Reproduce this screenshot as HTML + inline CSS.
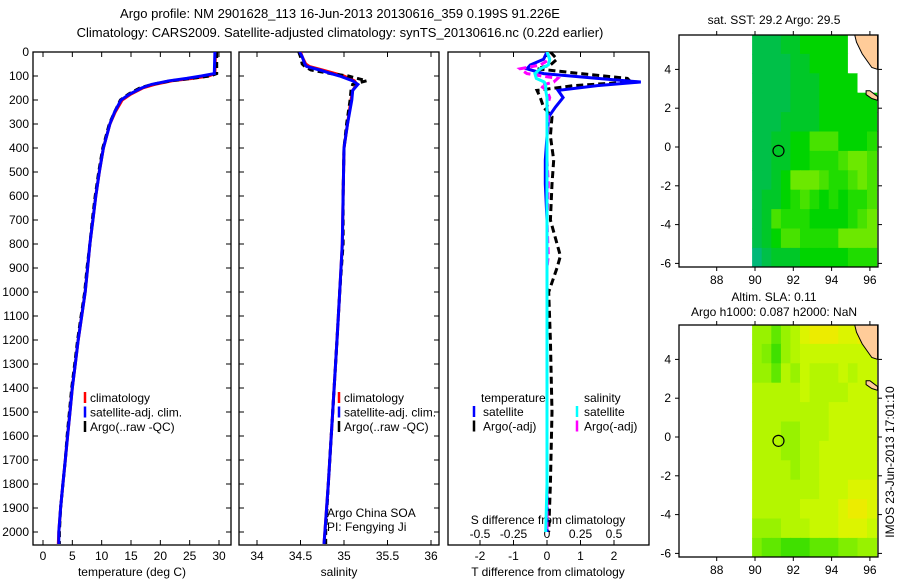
<!DOCTYPE html>
<html><head><meta charset="utf-8"><style>
body{margin:0;background:#fff;}
svg{display:block;font-family:"Liberation Sans",sans-serif;}
text{font-size:12px;fill:#000;}
</style></head><body>
<svg id="fig" width="900" height="580" viewBox="0 0 900 580">
<text x="340" y="18" text-anchor="middle" style="font-size:13px">Argo profile: NM 2901628_113 16-Jun-2013 20130616_359 0.199S 91.226E</text>
<text x="340" y="37" text-anchor="middle" style="font-size:13px">Climatology: CARS2009. Satellite-adjusted climatology: synTS_20130616.nc (0.22d earlier)</text>
<g id="g"></g>
</svg>
<script>
// ---- data ----
const depthT = [0,90,100,110,120,135,150,175,200,250,300,400,500,600,700,800,900,1000,1100,1200,1300,1400,1500,1600,1700,1800,1900,2000,2050];
const tempClim = [29.4,29.3,28.2,25.5,22,19,17,15,13.5,12.3,11.4,10.3,9.6,9.0,8.5,8.0,7.6,7.2,6.6,6.0,5.5,5.0,4.6,4.2,3.8,3.4,3.0,2.7,2.6];
const tempSat  = [29.3,29.2,27.0,24.5,21.5,18.5,16.8,14.8,13.3,12.2,11.4,10.3,9.6,9.0,8.5,8.0,7.6,7.2,6.6,6.0,5.5,5.0,4.6,4.2,3.8,3.4,3.0,2.7,2.7];
const tempArgo = [29.6,29.6,28.5,25.2,21.8,18.6,16.5,14.6,13.2,12.2,11.3,10.2,9.5,8.9,8.4,8.0,7.5,7.1,6.5,5.9,5.4,4.9,4.5,4.1,3.8,3.4,3.0,2.8,2.8];
const depthS = [0,20,50,60,75,90,100,120,135,160,200,300,400,600,800,1000,1200,1500,1800,2000,2050];
const salClim = [34.5,34.52,34.56,34.6,34.75,34.9,35.0,35.12,35.15,35.1,35.08,35.04,35.0,34.99,34.98,34.95,34.92,34.87,34.82,34.78,34.77];
const salSat  = [34.49,34.52,34.55,34.57,34.72,34.85,34.95,35.1,35.16,35.1,35.09,35.04,35.0,34.99,34.98,34.95,34.92,34.87,34.82,34.78,34.77];
const salArgo = [34.48,34.5,34.52,34.55,34.62,34.85,35.05,35.26,35.1,35.08,35.07,35.03,35.0,34.99,34.99,34.95,34.92,34.87,34.82,34.79,34.79];
const depthD = [0,30,54,70,90,110,125,140,160,190,230,270,350,450,550,700,850,900,1000,1200,1500,1800,2000];
const tDiffSat  = [0,-0.1,-0.5,-0.6,-0.1,1.5,2.8,1.5,0.33,0.48,0.25,0.05,0,-0.05,-0.05,0,0,0,0,0,0,0,0];
const tDiffArgo = [0.1,0.3,0.1,-0.3,1.0,2.4,2.5,0.8,-0.3,-0.2,-0.1,0.15,0.1,0.2,0.15,0.1,0.4,0.3,0.05,0.1,0.15,0.1,0.05];
const sDiffSat  = [0,0.02,0.01,-0.05,-0.09,-0.08,-0.02,-0.01,-0.01,0,0,0,0,0,0,0,0,0,0,0,0,0,-0.01];
const sDiffArgo = [0,0.02,-0.05,-0.2,-0.15,0.08,0.05,-0.05,0,0.02,0,0.01,0,0,0.01,0,0.01,0,0,0,0,0,0];
const depthTicks = [0,100,200,300,400,500,600,700,800,900,1000,1100,1200,1300,1400,1500,1600,1700,1800,1900,2000];
const tempTicks = [0,5,10,15,20,25,30];
const salTicks = [34,34.5,35,35.5,36];
const tdTicks = [-2,-1,0,1,2];
const sdTicks = [-0.5,-0.25,0,0.25,0.5];
const lonTicks = [88,90,92,94,96];
const latTicks = [4,2,0,-2,-4,-6];
const sstGrid = ["1112233333www","1111223333www","11112223333ww","1111222333333","1112222333333","1122335553334","1122334445665","1123666544565","1223454343445","1254443333456","1235544446666","0122233333444"];
const slaGrid = ["4424578887788","4314566666666","4425465556566","5555565555666","5555555566666","5554455566666","5554455666666","5555455666666","5555555666777","5555566667887","4445556667776","3221112223344"];
const argoLon = 91.226, argoLat = -0.199;

// ---- helpers ----
const NS="http://www.w3.org/2000/svg";
const G=document.getElementById('g');
function mk(tag,attrs,parent){const e=document.createElementNS(NS,tag);for(const k in attrs)e.setAttribute(k,attrs[k]);(parent||G).appendChild(e);return e;}
const yD=d=>52+d*0.24;
const xT=t=>43+t*5.867;
const xS=s=>257+(s-34)*87;
const xTd=v=>547+v*33.5;
const xSd=v=>547+v*134;

function frame(x0,x1,name){
  const r=mk('rect',{x:x0,y:52,width:x1-x0,height:493,fill:'none',stroke:'#000','stroke-width':1.3});
  
  
}
function line(xs,ys,color,name,dash,clip){
  let d='';xs.forEach((x,i)=>{d+=(i?'L':'M')+x.toFixed(1)+' '+ys[i].toFixed(1);});
  const p=mk('path',{d:d,fill:'none',stroke:color,'stroke-width':3,'stroke-dasharray':dash||'none','clip-path':clip});
  
  
}
function txt(x,y,s,name,anchor,size){
  const t=mk('text',{x:x,y:y,'text-anchor':anchor||'start'});
  if(size)t.style.fontSize=size+'px';
  t.textContent=s;
  
  
  return t;
}
const defs=mk('defs',{});
[[33,231,'c1'],[239,439,'c2'],[448,649,'c3']].forEach(([a,b,id])=>{const c=mk('clipPath',{id:id},defs);mk('rect',{x:a,y:52,width:b-a,height:493},c);});
[[35,'m1'],[325,'m2']].forEach(([t,id])=>{const c=mk('clipPath',{id:id},defs);mk('rect',{x:679,y:t,width:199,height:232},c);});

// ---- panel 1 ----
frame(33,231,'temperature-panel');
depthTicks.forEach(d=>{
  mk('line',{x1:33,x2:38,y1:yD(d),y2:yD(d),stroke:'#000'});
  mk('line',{x1:226,x2:231,y1:yD(d),y2:yD(d),stroke:'#000'});
  mk('line',{x1:239,x2:244,y1:yD(d),y2:yD(d),stroke:'#000'});
  mk('line',{x1:434,x2:439,y1:yD(d),y2:yD(d),stroke:'#000'});
  txt(29,yD(d)+4,String(d),'depth-tick-label','end');
});
tempTicks.forEach(t=>{
  mk('line',{x1:xT(t),x2:xT(t),y1:52,y2:57,stroke:'#000'});
  mk('line',{x1:xT(t),x2:xT(t),y1:540,y2:545,stroke:'#000'});
  txt(xT(t),560,String(t),'temperature-tick-label','middle');
});
txt(132,576,'temperature (deg C)','x-axis-title-temperature','middle');
line(tempClim.map(xT),depthT.map(yD),'#f00','temp-climatology-line',null,'url(#c1)');
line(tempArgo.map(xT),depthT.map(yD),'#000','temp-argo-line','6 4','url(#c1)');
line(tempSat.map(xT),depthT.map(yD),'#00f','temp-satellite-line',null,'url(#c1)');
[['climatology','#f00'],['satellite-adj. clim.','#00f'],['Argo(..raw -QC)','#000']].forEach(([s,c],i)=>{
  mk('line',{x1:85,x2:85,y1:392+i*14.5,y2:403+i*14.5,stroke:c,'stroke-width':2.5});
  txt(90,402+i*14.5,s,'legend-entry');
});

// ---- panel 2 ----
frame(239,439,'salinity-panel');
salTicks.forEach(s=>{
  mk('line',{x1:xS(s),x2:xS(s),y1:52,y2:57,stroke:'#000'});
  mk('line',{x1:xS(s),x2:xS(s),y1:540,y2:545,stroke:'#000'});
  txt(xS(s),560,String(s),'salinity-tick-label','middle');
});
txt(339,576,'salinity','x-axis-title-salinity','middle');
line(salClim.map(xS),depthS.map(yD),'#f00','sal-climatology-line',null,'url(#c2)');
line(salArgo.map(xS),depthS.map(yD),'#000','sal-argo-line','6 4','url(#c2)');
line(salSat.map(xS),depthS.map(yD),'#00f','sal-satellite-line',null,'url(#c2)');
[['climatology','#f00'],['satellite-adj. clim.','#00f'],['Argo(..raw -QC)','#000']].forEach(([s,c],i)=>{
  mk('line',{x1:339,x2:339,y1:392+i*14.5,y2:403+i*14.5,stroke:c,'stroke-width':2.5});
  txt(344,402+i*14.5,s,'legend-entry');
});
txt(327,517,'Argo China SOA','argo-institution');
txt(327,531,'PI: Fengying Ji','argo-pi');

// ---- panel 3 ----
frame(448,649,'difference-panel');
tdTicks.forEach(v=>{
  mk('line',{x1:xTd(v),x2:xTd(v),y1:52,y2:57,stroke:'#000'});
  mk('line',{x1:xTd(v),x2:xTd(v),y1:540,y2:545,stroke:'#000'});
  txt(xTd(v),560,String(v),'tdiff-tick-label','middle');
});
sdTicks.forEach(v=>{
  mk('line',{x1:xSd(v),x2:xSd(v),y1:540,y2:545,stroke:'#000'});
  txt(xSd(v),538,String(v),'sdiff-tick-label','middle');
});
txt(548,524,'S difference from climatology','sdiff-axis-title','middle');
txt(548,576,'T difference from climatology','tdiff-axis-title','middle');
line(tDiffArgo.map(xTd),depthD.map(yD),'#000','tdiff-argo-line','7 4','url(#c3)');
line(tDiffSat.map(xTd),depthD.map(yD),'#00f','tdiff-satellite-line',null,'url(#c3)');
line(sDiffArgo.map(xSd),depthD.map(yD),'#f0f','sdiff-argo-line','7 4','url(#c3)');
line(sDiffSat.map(xSd),depthD.map(yD),'#0ff','sdiff-satellite-line',null,'url(#c3)');
txt(481,402,'temperature','legend-heading-temperature');
txt(584,402,'salinity','legend-heading-salinity');
[['satellite','#00f',474,483],['Argo(-adj)','#000',474,483],['satellite','#0ff',577,584],['Argo(-adj)','#f0f',577,584]].forEach(([s,c,mx,tx],i)=>{
  const r=i%2;
  mk('line',{x1:mx,x2:mx,y1:406+r*14.5,y2:417+r*14.5,stroke:c,'stroke-width':2.5});
  txt(tx,416+r*14.5,s,'legend-entry');
});

// ---- maps ----
const sstCols={'0':'#00b878','1':'#00c048','2':'#00c828','3':'#00d400','4':'#20dc00','5':'#48e200','6':'#6ce800','w':'#ffffff'};
const slaCols={'1':'#40e000','2':'#60e800','3':'#80ee00','4':'#98f200','5':'#b4f600','6':'#c8f800','7':'#dcf400','8':'#ecec00'};
function map(top,lat0y,grid,cols,name,clip){
  const xL=lon=>755+(lon-90)*19.15;
  const yL=lat=>lat0y-lat*19.4;
  const g=mk('g',{'clip-path':'url(#'+clip+')'});
  grid.forEach((row,ri)=>{
    [...row].forEach((ch,ci)=>{
      const lon=89.85+ci*0.5, lat=5.8-ri;
      const r=mk('rect',{x:xL(lon).toFixed(1),y:yL(lat).toFixed(1),width:(0.5*19.15+0.6).toFixed(1),height:(19.4+0.6).toFixed(1),fill:cols[ch]},g);
      
      
    });
  });
  const land1=[[95.2,5.8],[95.3,5.4],[95.6,4.8],[96.1,4.1],[96.4,4.0],[96.4,5.8]];
  const land2=[[95.8,2.9],[96.0,2.9],[96.4,2.6],[96.4,2.4],[96.1,2.5],[95.8,2.7]];
  [land1,land2].forEach(L=>{
    const p=mk('polygon',{points:L.map(([a,b])=>xL(a).toFixed(1)+','+yL(b).toFixed(1)).join(' '),fill:'#ffcc99',stroke:'#000','stroke-width':1},g);
    
    
  });
  const c=mk('circle',{cx:xL(argoLon),cy:yL(argoLat),r:5.5,fill:'none',stroke:'#000','stroke-width':1.2});
  
  
  const bottom=top+232;
  const f=mk('rect',{x:679,y:top,width:199,height:232,fill:'none',stroke:'#000','stroke-width':1.3});
  
  
  lonTicks.forEach(l=>{
    mk('line',{x1:xL(l),x2:xL(l),y1:top-4,y2:top,stroke:'#000'});
    mk('line',{x1:xL(l),x2:xL(l),y1:bottom,y2:bottom+4,stroke:'#000'});
    txt(xL(l),bottom+17,String(l),'lon-tick-label','middle');
  });
  latTicks.forEach(l=>{
    mk('line',{x1:675,x2:679,y1:yL(l),y2:yL(l),stroke:'#000'});
    mk('line',{x1:878,x2:882,y1:yL(l),y2:yL(l),stroke:'#000'});
    txt(671,yL(l)+4,String(l),'lat-tick-label','end');
  });
}
map(35,147,sstGrid,sstCols,'sst-map','m1');
map(325,437,slaGrid,slaCols,'sla-map','m2');
txt(774,24,'sat. SST: 29.2  Argo: 29.5','sst-map-title','middle');
txt(774,301,'Altim. SLA: 0.11','sla-map-title','middle');
txt(774,316,'Argo h1000: 0.087 h2000: NaN','sla-map-subtitle','middle');
const im=txt(0,0,'IMOS 23-Jun-2013 17:01:10','imos-timestamp','middle');
im.setAttribute('transform','translate(894,462) rotate(-90)');
</script>
</body></html>
